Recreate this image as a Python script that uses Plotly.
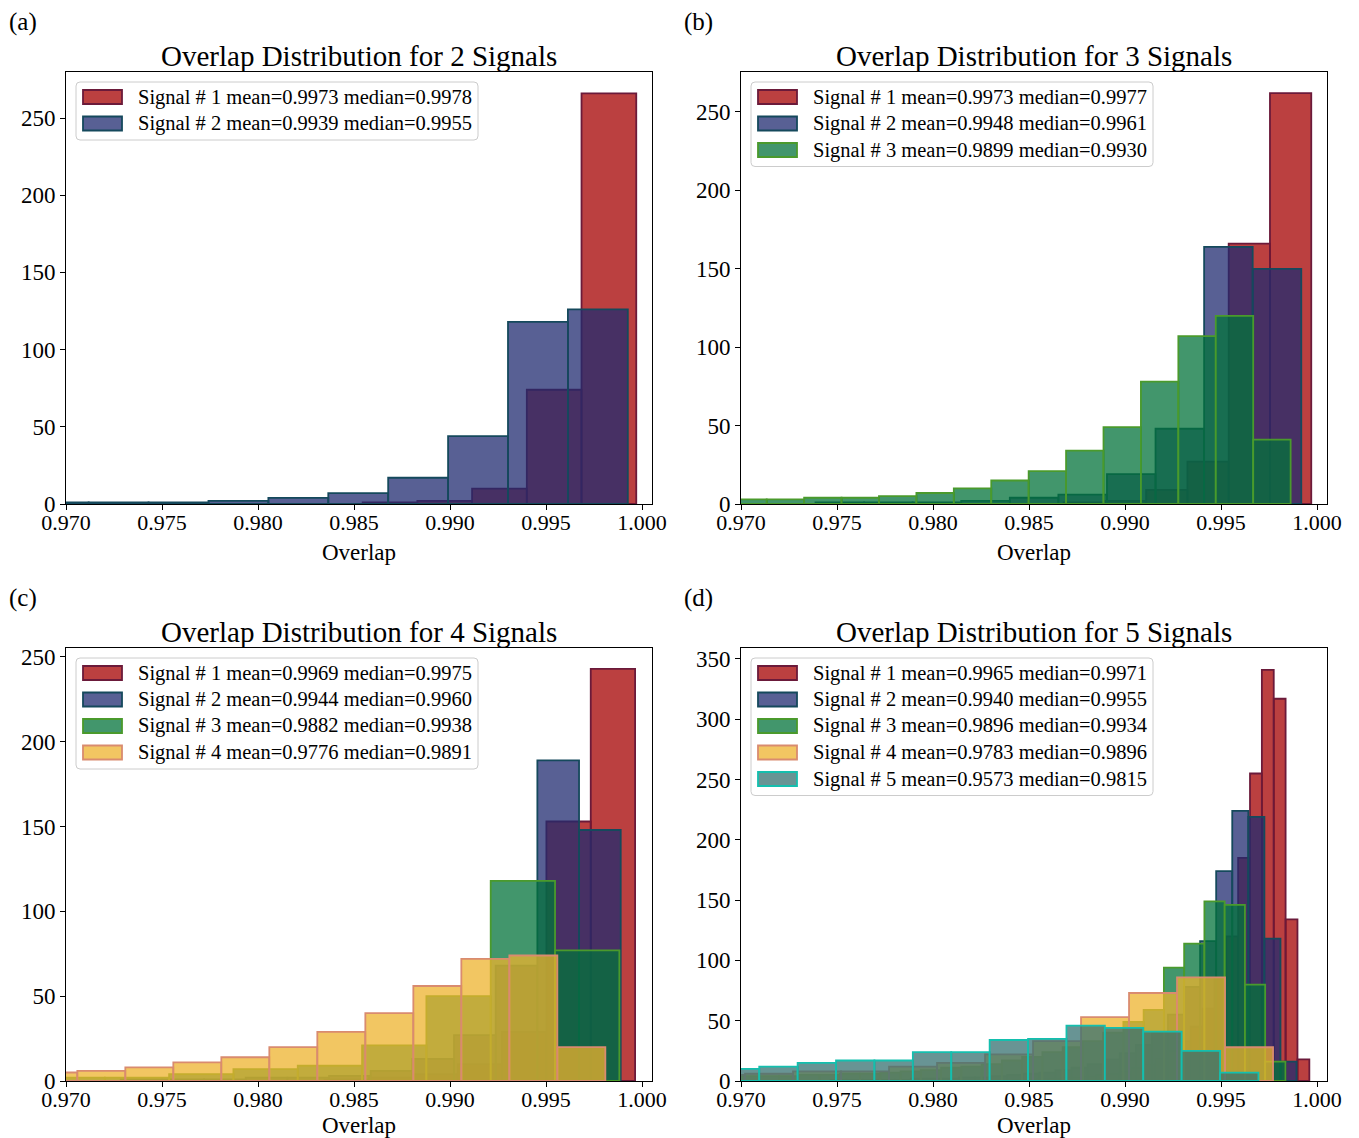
import plotly.graph_objects as go

W, H = 1359, 1138
FONT = "Liberation Serif"

# ---------------- data ----------------
# Each signal: left edge of first drawn bin, bin width, counts per bin
a_starts = [0.98545, 0.96806]
a_widths = [0.00285, 0.00312]
a_counts = [
    [1, 2, 10, 74, 266],
    [1, 1, 1, 2, 4, 7, 17, 44, 118, 126],
]
a_means = ["0.9973", "0.9939"]
a_medians = ["0.9978", "0.9955"]

b_starts = [0.98680, 0.97388, 0.96939]
b_widths = [0.00215, 0.00253, 0.001949]
b_counts = [
    [1, 2, 9, 27, 166, 262],
    [1, 1, 1, 2, 4, 6, 19, 48, 164, 150],
    [3, 3, 4, 4, 5, 7, 10, 15, 21, 34, 49, 78, 107, 120, 41],
]
b_means = ["0.9973", "0.9948", "0.9899"]
b_medians = ["0.9977", "0.9961", "0.9930"]

c_starts = [0.98347, 0.97285, 0.96867, 0.96809]
c_widths = [0.00231, 0.00217, 0.00335, 0.00250]
c_counts = [
    [1, 2, 4, 10, 29, 153, 243],
    [1, 1, 1, 2, 2, 3, 6, 13, 27, 68, 189, 148],
    [2, 2, 4, 7, 9, 21, 50, 118, 77],
    [5, 6, 8, 11, 14, 20, 29, 40, 56, 72, 74, 20],
]
c_means = ["0.9969", "0.9944", "0.9882", "0.9776"]
c_medians = ["0.9975", "0.9960", "0.9938", "0.9891"]

d_starts = [0.98415, 0.97466, 0.96987, 0.96771, 0.96895]
d_widths = [0.000618, 0.000837, 0.001055, 0.00250, 0.00200]
d_counts = [
    [1, 1, 2, 2, 3, 3, 4, 5, 6, 8, 11, 14, 19, 25, 33, 45, 60, 85, 120, 185, 255, 341, 317, 134, 18],
    [1, 1, 1, 1, 1, 2, 2, 2, 3, 3, 4, 5, 6, 7, 9, 11, 14, 18, 23, 30, 40, 55, 78, 116, 174, 224, 219, 118, 16],
    [4, 4, 4, 5, 5, 6, 6, 7, 8, 9, 11, 12, 14, 17, 20, 24, 28, 33, 40, 49, 59, 94, 114, 149, 146, 80, 16],
    [5, 6, 8, 8, 12, 15, 22, 33, 53, 73, 86, 28],
    [10, 12, 15, 17, 17, 24, 24, 34, 35, 46, 44, 41, 25, 7],
]
d_means = ["0.9965", "0.9940", "0.9896", "0.9783", "0.9573"]
d_medians = ["0.9971", "0.9955", "0.9934", "0.9896", "0.9815"]

x_ticks = [0.970, 0.975, 0.980, 0.985, 0.990, 0.995, 1.000]
y_ticks_abc = [0, 50, 100, 150, 200, 250]
y_ticks_d = [0, 50, 100, 150, 200, 250, 300, 350]
n_signals = [2, 3, 4, 5]
panel_letters = ["(a)", "(b)", "(c)", "(d)"]

# ---------------- styles ----------------
FILLS = ["rgba(164,0,0,0.75)", "rgba(32,43,112,0.75)", "rgba(3,115,59,0.75)",
         "rgba(238,179,46,0.75)", "rgba(54,112,112,0.75)"]
EDGES = ["#6b1a3a", "#15495c", "#4a9a2c", "#d98b6f", "#14bfae"]

# panel plot areas in pixels: (left, top, right, bottom)
AREAS = [(66, 72, 652, 504), (741, 72, 1327, 504),
         (66, 648, 652, 1081), (741, 648, 1327, 1081)]
XLABEL_OFFSET = [48, 48, 44, 44]
YMAX = [279.8, 275.5, 255.3, 359.1]
XR = [0.970, 1.00052]


def X(p):
    return p / W


def Y(p):
    return 1 - p / H


panels = [
    (a_starts, a_widths, a_counts, a_means, a_medians, y_ticks_abc),
    (b_starts, b_widths, b_counts, b_means, b_medians, y_ticks_abc),
    (c_starts, c_widths, c_counts, c_means, c_medians, y_ticks_abc),
    (d_starts, d_widths, d_counts, d_means, d_medians, y_ticks_d),
]

fig = go.Figure()
annotations = []
shapes = []


def rrect(x0, y0, x1, y1, r):
    return (f"M {X(x0 + r)},{Y(y0)} L {X(x1 - r)},{Y(y0)} "
            f"Q {X(x1)},{Y(y0)} {X(x1)},{Y(y0 + r)} L {X(x1)},{Y(y1 - r)} "
            f"Q {X(x1)},{Y(y1)} {X(x1 - r)},{Y(y1)} L {X(x0 + r)},{Y(y1)} "
            f"Q {X(x0)},{Y(y1)} {X(x0)},{Y(y1 - r)} L {X(x0)},{Y(y0 + r)} "
            f"Q {X(x0)},{Y(y0)} {X(x0 + r)},{Y(y0)} Z")


for k, (starts, widths, counts, means, medians, yt) in enumerate(panels):
    L, T, R, B = AREAS[k]
    xa = "x" if k == 0 else f"x{k + 1}"
    ya = "y" if k == 0 else f"y{k + 1}"
    xkey = "xaxis" if k == 0 else f"xaxis{k + 1}"
    ykey = "yaxis" if k == 0 else f"yaxis{k + 1}"
    for s in range(len(counts)):
        w = widths[s]
        centers = [starts[s] + w * (i + 0.5) for i in range(len(counts[s]))]
        fig.add_trace(go.Bar(
            x=centers, y=counts[s], width=w, xaxis=xa, yaxis=ya,
            marker=dict(color=FILLS[s], line=dict(color=EDGES[s], width=1.8)),
            showlegend=False, hoverinfo="skip"))
    axcommon = dict(showline=True, mirror=True, linecolor="black", linewidth=1,
                    ticks="outside", ticklen=5, tickwidth=1, tickcolor="black",
                    showgrid=False, zeroline=False, automargin=False)
    fig.update_layout({
        xkey: dict(domain=[X(L), X(R)], range=XR, anchor=ya,
                   tickvals=x_ticks, ticktext=[f"{v:.3f}" for v in x_ticks],
                   ticklabelstandoff=-6,
                   tickfont=dict(family=FONT, size=22, color="black"),
                   **axcommon),
        ykey: dict(domain=[Y(B), Y(T)], range=[0, YMAX[k]], anchor=xa,
                   tickvals=yt, ticktext=[str(v) for v in yt],
                   tickfont=dict(family=FONT, size=23, color="black"),
                   **axcommon),
    })
    cx = (L + R) / 2
    # title
    annotations.append(dict(x=X(cx), y=Y(T - 16), xref="paper", yref="paper",
                            text=f"Overlap Distribution for {n_signals[k]} Signals",
                            showarrow=False, xanchor="center", yanchor="middle",
                            font=dict(family=FONT, size=29, color="black")))
    # x label
    annotations.append(dict(x=X(cx), y=Y(B + XLABEL_OFFSET[k]), xref="paper", yref="paper",
                            text="Overlap", showarrow=False, xanchor="center",
                            yanchor="middle",
                            font=dict(family=FONT, size=23, color="black")))
    # panel letter
    annotations.append(dict(x=X(L - 59), y=Y(T - 50), xref="paper", yref="paper",
                            text=panel_letters[k], showarrow=False, xanchor="left",
                            yanchor="middle",
                            font=dict(family=FONT, size=25, color="black")))
    # legend
    n = len(counts)
    bx0, by0 = L + 10, T + 10
    bx1, by1 = L + 412, T + 10 + 5 + 26.5 * n
    shapes.append(dict(type="path", path=rrect(bx0, by0, bx1, by1, 4),
                       xref="paper", yref="paper", layer="above",
                       fillcolor="rgba(255,255,255,0.8)",
                       line=dict(color="rgb(204,204,204)", width=1)))
    for s in range(n):
        ry = T + 25 + 26.5 * s
        shapes.append(dict(type="rect", xref="paper", yref="paper", layer="above",
                           x0=X(L + 17), x1=X(L + 56), y0=Y(ry + 7), y1=Y(ry - 7),
                           fillcolor=FILLS[s], line=dict(color=EDGES[s], width=1.8)))
        annotations.append(dict(x=X(L + 70), y=Y(ry), xref="paper", yref="paper",
                                text=f"Signal # {s + 1} mean={means[s]} median={medians[s]}",
                                showarrow=False, xanchor="left", yanchor="middle",
                                font=dict(family=FONT, size=20.5, color="black")))

fig.update_layout(template="none", width=W, height=H,
                  margin=dict(l=0, r=0, t=0, b=0, autoexpand=False),
                  paper_bgcolor="white", plot_bgcolor="white",
                  barmode="overlay", showlegend=False,
                  annotations=annotations, shapes=shapes,
                  font=dict(family=FONT, color="black"))

fig.write_html("out.html")
